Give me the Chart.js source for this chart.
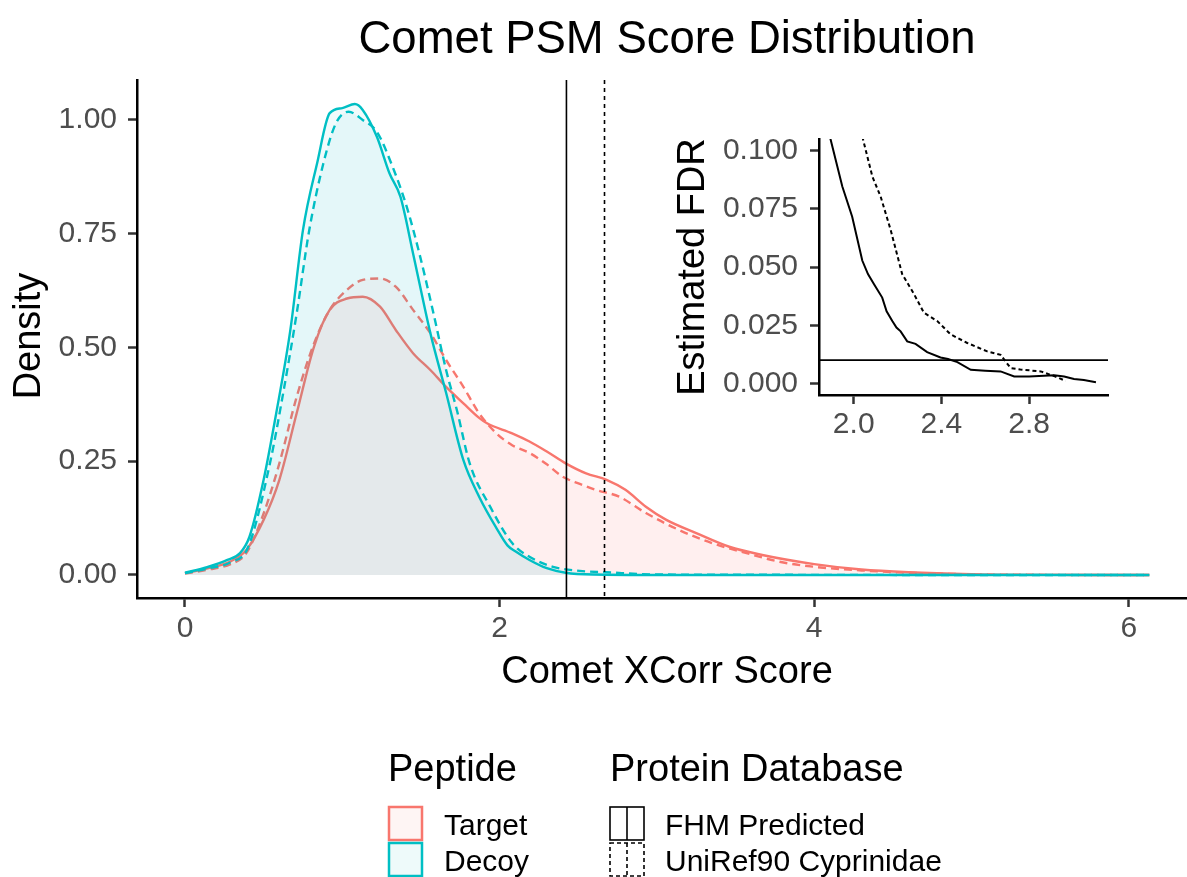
<!DOCTYPE html>
<html>
<head>
<meta charset="utf-8">
<title>Comet PSM Score Distribution</title>
<script src="https://cdn.jsdelivr.net/npm/chart.js@4.4.0/dist/chart.umd.min.js"></script>
<style>
  html, body { margin: 0; padding: 0; background: #fff; }
  #wrap { position: relative; width: 1187px; height: 877px; overflow: hidden; }
  #mainChart { position: absolute; left: 0; top: 0; width: 1187px; height: 877px; }
  #insetChart { position: absolute; left: 640px; top: 100px; width: 490px; height: 360px; }
</style>
</head>
<body>
<div id="wrap">
  <canvas id="mainChart" width="1187" height="877"></canvas>
  <canvas id="insetChart" width="490" height="360"></canvas>
</div>
<script>
// density curves (x = Comet XCorr, y = density)
const targetFhmX = [0, 0.15, 0.29, 0.39, 0.5, 0.6, 0.71, 0.82, 0.92, 1.03, 1.13, 1.24, 1.34, 1.45, 1.56, 1.66, 1.77, 1.87, 1.92, 2.08, 2.19, 2.3, 2.42, 2.55, 2.68, 2.8, 2.93, 3.06, 3.25, 3.46, 3.67, 4.0, 4.3, 4.6, 5.0, 5.5, 6.13];
const targetFhmY = [0.004, 0.015, 0.03, 0.055, 0.121, 0.209, 0.355, 0.501, 0.582, 0.607, 0.611, 0.589, 0.538, 0.487, 0.45, 0.413, 0.377, 0.345, 0.333, 0.311, 0.293, 0.271, 0.245, 0.223, 0.209, 0.187, 0.15, 0.121, 0.092, 0.062, 0.044, 0.024, 0.012, 0.006, 0.002, 0.0003, 0];

const targetUniX = [0, 0.15, 0.29, 0.39, 0.5, 0.6, 0.71, 0.82, 0.92, 1.03, 1.13, 1.24, 1.34, 1.45, 1.56, 1.66, 1.77, 1.87, 1.98, 2.08, 2.19, 2.3, 2.4, 2.51, 2.61, 2.76, 2.93, 3.14, 3.35, 3.57, 3.78, 4.0, 4.3, 4.6, 5.0, 5.5, 6.13];
const targetUniY = [0.003, 0.012, 0.024, 0.048, 0.135, 0.245, 0.391, 0.508, 0.582, 0.626, 0.648, 0.651, 0.633, 0.582, 0.531, 0.472, 0.413, 0.355, 0.311, 0.285, 0.268, 0.243, 0.216, 0.2, 0.187, 0.172, 0.136, 0.099, 0.07, 0.048, 0.029, 0.018, 0.01, 0.005, 0.0015, 0.0003, 0];

const decoyFhmX = [0, 0.14, 0.27, 0.35, 0.41, 0.5, 0.58, 0.67, 0.75, 0.84, 0.92, 1.0, 1.08, 1.13, 1.22, 1.3, 1.37, 1.45, 1.56, 1.66, 1.77, 1.87, 1.98, 2.05, 2.1, 2.19, 2.3, 2.42, 2.6, 3.0, 6.13];
const decoyFhmY = [0.005, 0.017, 0.033, 0.048, 0.084, 0.209, 0.355, 0.538, 0.757, 0.904, 1.014, 1.025, 1.034, 1.021, 0.962, 0.882, 0.83, 0.706, 0.531, 0.4, 0.252, 0.172, 0.103, 0.065, 0.052, 0.033, 0.015, 0.005, 0.001, 0, 0];

const decoyUniX = [0, 0.14, 0.29, 0.4, 0.54, 0.62, 0.71, 0.79, 0.88, 0.96, 1.04, 1.13, 1.22, 1.32, 1.41, 1.49, 1.58, 1.66, 1.73, 1.81, 1.94, 2.08, 2.19, 2.34, 2.51, 2.68, 3.0, 6.13];
const decoyUniY = [0.004, 0.014, 0.028, 0.06, 0.245, 0.391, 0.574, 0.757, 0.904, 0.992, 1.017, 0.999, 0.973, 0.896, 0.808, 0.706, 0.574, 0.45, 0.36, 0.245, 0.15, 0.07, 0.04, 0.018, 0.009, 0.006, 0.001, 0];

// score cutoffs (FHM Predicted, UniRef90 Cyprinidae)
const thresholdScores = [2.425, 2.667];

// estimated FDR curves for the inset
const fdrFhmX = [1.87, 1.894, 1.948, 1.993, 2.039, 2.065, 2.092, 2.13, 2.15, 2.176, 2.195, 2.214, 2.244, 2.282, 2.335, 2.396, 2.43, 2.473, 2.534, 2.6, 2.67, 2.732, 2.8, 2.914, 2.96, 3.005, 3.05, 3.105];
const fdrFhmY = [0.115, 0.105, 0.0846, 0.0716, 0.0528, 0.047, 0.0427, 0.0369, 0.031, 0.0268, 0.024, 0.0224, 0.0181, 0.017, 0.0135, 0.0112, 0.0105, 0.0092, 0.0059, 0.0055, 0.0052, 0.003, 0.003, 0.0035, 0.003, 0.0019, 0.0015, 0.0005];
const fdrUniX = [2.03, 2.042, 2.085, 2.123, 2.169, 2.221, 2.275, 2.32, 2.381, 2.442, 2.518, 2.609, 2.67, 2.716, 2.76, 2.853, 2.92, 2.967];
const fdrUniY = [0.115, 0.105, 0.0889, 0.0802, 0.0658, 0.047, 0.0384, 0.0304, 0.0268, 0.0211, 0.0174, 0.0138, 0.0123, 0.0066, 0.006, 0.0052, 0.003, 0.0011];
const fdrCutoff = 0.01;

const mainXTicks = [0, 2, 4, 6];
const mainYTicks = [0, 0.25, 0.5, 0.75, 1.0];
const insetXTicks = [2.0, 2.4, 2.8];
const insetYTicks = [0, 0.025, 0.05, 0.075, 0.1];

const peptideLabels = ['Target', 'Decoy'];
const databaseLabels = ['FHM Predicted', 'UniRef90 Cyprinidae'];

const FONT = '"Liberation Sans", Arial, Helvetica, sans-serif';
const SALMON = '#F8766D';
const CYAN = '#00BFC4';
const TICK_GREY = '#4d4d4d';

function toPoints(xs, ys) {
  return xs.map((x, i) => ({ x: x, y: ys[i] }));
}

function densitySet(label, xs, ys, color, fill, dashed) {
  return {
    label: label,
    data: toPoints(xs, ys),
    borderColor: color,
    backgroundColor: fill,
    borderWidth: 2.4,
    borderDash: dashed ? [8, 5] : [],
    fill: 'origin',
    pointRadius: 0,
    cubicInterpolationMode: 'monotone'
  };
}

function axisStyle(ticks, fmt, pad) {
  return {
    type: 'linear',
    afterBuildTicks: s => { s.ticks = ticks.map(v => ({ value: v })); },
    grid: { display: true, drawOnChartArea: false, drawTicks: true, tickLength: 9, tickWidth: 2.5, tickColor: '#333' },
    border: { display: true, color: '#000', width: 2.5 },
    ticks: { font: { family: FONT, size: 30 }, color: TICK_GREY, padding: pad, maxRotation: 0, autoSkip: false, callback: fmt }
  };
}

function text(ctx, str, x, y, size, align, color) {
  ctx.save();
  ctx.font = size + 'px ' + FONT;
  ctx.fillStyle = color || '#000';
  ctx.textAlign = align || 'left';
  ctx.textBaseline = 'alphabetic';
  ctx.fillText(str, x, y);
  ctx.restore();
}

function rotatedText(ctx, str, x, y, size) {
  ctx.save();
  ctx.translate(x, y);
  ctx.rotate(-Math.PI / 2);
  ctx.font = size + 'px ' + FONT;
  ctx.fillStyle = '#000';
  ctx.textAlign = 'center';
  ctx.textBaseline = 'alphabetic';
  ctx.fillText(str, 0, 0);
  ctx.restore();
}

// title, axis titles, cutoff lines and the legend
const mainDecor = {
  id: 'mainDecor',
  afterDatasetsDraw(chart) {
    const ctx = chart.ctx, a = chart.chartArea, xs = chart.scales.x;
    thresholdScores.forEach((v, i) => {
      const px = xs.getPixelForValue(v);
      ctx.save();
      ctx.strokeStyle = '#000';
      ctx.lineWidth = 1.6;
      ctx.setLineDash(i === 0 ? [] : [4, 4]);
      ctx.beginPath();
      ctx.moveTo(px, a.top);
      ctx.lineTo(px, a.bottom);
      ctx.stroke();
      ctx.restore();
    });
  },
  afterDraw(chart) {
    const ctx = chart.ctx;
    text(ctx, 'Comet PSM Score Distribution', 667, 53, 45.5, 'center');
    text(ctx, 'Comet XCorr Score', 667, 683, 38, 'center');
    rotatedText(ctx, 'Density', 40, 336, 38);

    // legend: Peptide
    text(ctx, 'Peptide', 388, 781, 38);
    const pepColors = [SALMON, CYAN];
    const pepFills = ['#fef5f4', '#eefafa'];
    peptideLabels.forEach((lab, i) => {
      const y = 807 + i * 36;
      ctx.save();
      ctx.fillStyle = pepFills[i];
      ctx.fillRect(389, y, 33, 33);
      ctx.strokeStyle = pepColors[i];
      ctx.lineWidth = 2.5;
      ctx.strokeRect(389, y, 33, 33);
      ctx.restore();
      text(ctx, lab, 444, y + 28, 30);
    });

    // legend: Protein Database
    text(ctx, 'Protein Database', 610, 781, 38);
    databaseLabels.forEach((lab, i) => {
      const y = 807 + i * 36;
      ctx.save();
      ctx.strokeStyle = '#000';
      ctx.lineWidth = 1.6;
      ctx.setLineDash(i === 0 ? [] : [4, 3]);
      ctx.strokeRect(610, y, 34, 33);
      ctx.beginPath();
      ctx.moveTo(627, y);
      ctx.lineTo(627, y + 33);
      ctx.stroke();
      ctx.restore();
      text(ctx, lab, 665, y + 28, 30);
    });
  }
};

const mainX = axisStyle(mainXTicks, v => String(v), 4);
mainX.min = -0.305;
mainX.max = 6.37;
mainX.afterFit = s => { s.height = 40; };
const mainY = axisStyle(mainYTicks, v => v.toFixed(2), 11);
mainY.min = -0.0505;
mainY.max = 1.0867;
mainY.afterFit = s => { s.width = 137; };

new Chart(document.getElementById('mainChart'), {
  type: 'line',
  data: {
    datasets: [
      densitySet('Decoy / FHM Predicted', decoyFhmX, decoyFhmY, CYAN, 'rgba(0,191,196,0.055)', false),
      densitySet('Decoy / UniRef90 Cyprinidae', decoyUniX, decoyUniY, CYAN, 'rgba(0,191,196,0.055)', true),
      densitySet('Target / FHM Predicted', targetFhmX, targetFhmY, SALMON, 'rgba(248,118,109,0.055)', false),
      densitySet('Target / UniRef90 Cyprinidae', targetUniX, targetUniY, SALMON, 'rgba(248,118,109,0.055)', true)
    ]
  },
  options: {
    responsive: false,
    animation: false,
    devicePixelRatio: 1,
    layout: { padding: { top: 80, bottom: 239, left: 0, right: 0 } },
    plugins: { legend: { display: false }, tooltip: { enabled: false }, title: { display: false } },
    scales: { x: mainX, y: mainY }
  },
  plugins: [mainDecor]
});

// inset: estimated FDR vs score
const insetDecor = {
  id: 'insetDecor',
  beforeDatasetsDraw(chart) {
    const ctx = chart.ctx, a = chart.chartArea;
    const py = chart.scales.y.getPixelForValue(fdrCutoff);
    ctx.save();
    ctx.strokeStyle = '#000';
    ctx.lineWidth = 1.8;
    ctx.beginPath();
    ctx.moveTo(a.left, py);
    ctx.lineTo(a.right, py);
    ctx.stroke();
    ctx.restore();
  },
  afterDraw(chart) {
    rotatedText(chart.ctx, 'Estimated FDR', 64, 167, 38);
  }
};

const insetX = axisStyle(insetXTicks, v => v.toFixed(1), 3);
insetX.min = 1.8416;
insetX.max = 3.16;
insetX.afterFit = s => { s.height = 45; };
const insetY = axisStyle(insetYTicks, v => v.toFixed(3), 12);
insetY.min = -0.00494;
insetY.max = 0.105;
insetY.afterFit = s => { s.width = 179; };

new Chart(document.getElementById('insetChart'), {
  type: 'line',
  data: {
    datasets: [
      { label: 'FHM Predicted', data: toPoints(fdrFhmX, fdrFhmY), borderColor: '#000', borderWidth: 2, pointRadius: 0, tension: 0, fill: false },
      { label: 'UniRef90 Cyprinidae', data: toPoints(fdrUniX, fdrUniY), borderColor: '#000', borderWidth: 2, borderDash: [4, 3], pointRadius: 0, tension: 0, fill: false }
    ]
  },
  options: {
    responsive: false,
    animation: false,
    devicePixelRatio: 1,
    layout: { padding: { top: 39, bottom: 20, left: 0, right: 22 } },
    plugins: { legend: { display: false }, tooltip: { enabled: false } },
    scales: { x: insetX, y: insetY }
  },
  plugins: [insetDecor]
});
</script>
</body>
</html>
